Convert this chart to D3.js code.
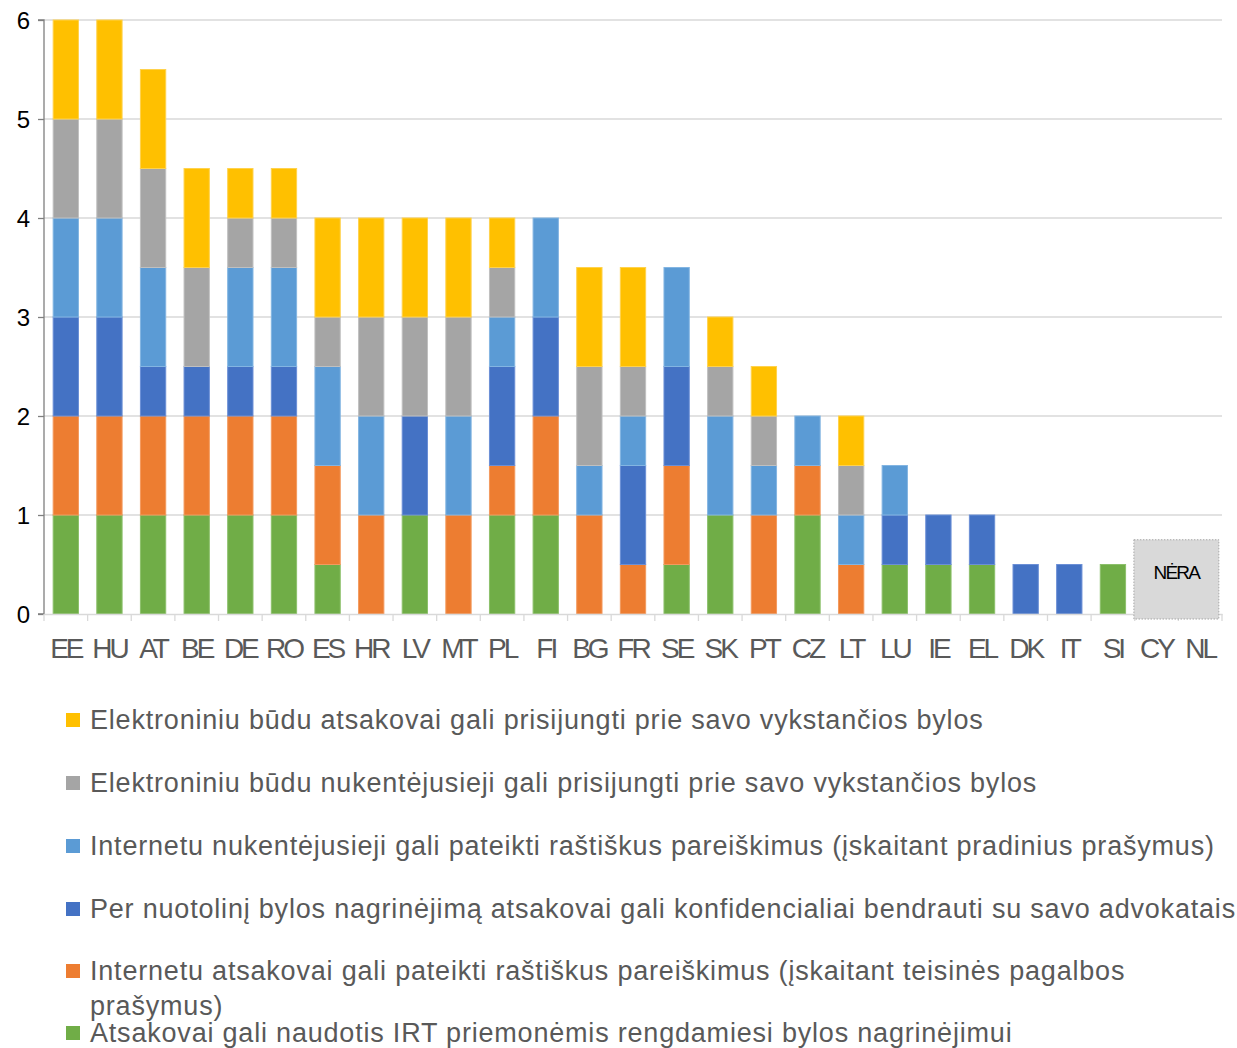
<!DOCTYPE html>
<html><head><meta charset="utf-8">
<script src="https://cdn.jsdelivr.net/npm/d3@7"></script>
<style>body{margin:0;background:#fff}svg{display:block}</style>
</head><body>
<svg id="c" width="1237" height="1048"></svg>
<script>
const categories = ["EE","HU","AT","BE","DE","RO","ES","HR","LV","MT","PL","FI","BG","FR","SE","SK","PT","CZ","LT","LU","IE","EL","DK","IT","SI","CY","NL"];
const seriesNames = [
  "Atsakovai gali naudotis IRT priemonėmis rengdamiesi bylos nagrinėjimui",
  "Internetu atsakovai gali pateikti raštiškus pareiškimus (įskaitant teisinės pagalbos prašymus)",
  "Per nuotolinį bylos nagrinėjimą atsakovai gali konfidencialiai bendrauti su savo advokatais",
  "Internetu nukentėjusieji gali pateikti raštiškus pareiškimus (įskaitant pradinius prašymus)",
  "Elektroniniu būdu nukentėjusieji gali prisijungti prie savo vykstančios bylos",
  "Elektroniniu būdu atsakovai gali prisijungti prie savo vykstančios bylos"
];
const green  = [1,1,1,1,1,1,0.5,0,1,0,1,1,0,0,0.5,1,0,1,0,0.5,0.5,0.5,0,0,0.5,0,0];
const orange = [1,1,1,1,1,1,1,1,0,1,0.5,1,1,0.5,1,0,1,0.5,0.5,0,0,0,0,0,0,0,0];
const dblue  = [1,1,0.5,0.5,0.5,0.5,0,0,1,0,1,1,0,1,1,0,0,0,0,0.5,0.5,0.5,0.5,0.5,0,0,0];
const lblue  = [1,1,1,0,1,1,1,1,0,1,0.5,1,0.5,0.5,1,1,0.5,0.5,0.5,0.5,0,0,0,0,0,0,0];
const gray   = [1,1,1,1,0.5,0.5,0.5,1,1,1,0.5,0,1,0.5,0,0.5,0.5,0,0.5,0,0,0,0,0,0,0,0];
const yellow = [1,1,1,1,0.5,0.5,1,1,1,1,0.5,0,1,1,0,0.5,0.5,0,0.5,0,0,0,0,0,0,0,0];
const yTicks = [0,1,2,3,4,5,6];
const naLabel = "NĖRA";
const naCats = ["CY","NL"];

const seriesVals = [green, orange, dblue, lblue, gray, yellow];
const colors = ["#70AD47","#ED7D31","#4472C4","#5B9BD5","#A5A5A5","#FFC000"];
const strokes = ["#8cc06b","#f39a5e","#6b8fd6","#83b5e2","#c0c0c0","#ffd24d"];
const FONT = "Liberation Sans, Arial, sans-serif";

const svg = d3.select("#c");
const L = 44, R = 1222, T = 20, B = 614;
const x = d3.scaleBand().domain(categories).range([L, R]).paddingInner(0.42).paddingOuter(0.21);
const y = d3.scaleLinear().domain([0,6]).range([B, T]);

// gridlines
svg.append("g").selectAll("line").data(yTicks.filter(d=>d>0)).join("line")
  .attr("x1", L).attr("x2", R).attr("y1", d=>y(d)).attr("y2", d=>y(d))
  .attr("stroke", "#d9d9d9").attr("stroke-width", 1.3);

const rows = categories.map((c,i)=>{const o={cat:c}; seriesVals.forEach((s,k)=>o["s"+k]=s[i]); return o;});
const stack = d3.stack().keys(seriesVals.map((_,k)=>"s"+k))(rows);

svg.append("g").selectAll("g").data(stack).join("g")
  .attr("fill", (d,k)=>colors[k]).attr("stroke",(d,k)=>strokes[k]).attr("stroke-width",1)
  .selectAll("rect").data(d=>d.filter(p=>p[1]-p[0]>0)).join("rect")
  .attr("x", d=>x(d.data.cat)).attr("width", x.bandwidth())
  .attr("y", d=>y(d[1])).attr("height", d=>y(d[0])-y(d[1]));

// y axis
const ya = svg.append("g").attr("transform",`translate(${L},0)`)
  .call(d3.axisLeft(y).tickValues(yTicks).tickSize(6).tickPadding(8).tickFormat(d3.format("d")));
ya.select(".domain").attr("stroke","#7f7f7f").attr("stroke-width",1.3).attr("d",`M-6,${T}H0V${B}H-6`);
ya.selectAll(".tick line").attr("stroke","#7f7f7f").attr("stroke-width",1.3);
ya.selectAll(".tick text").attr("font-family",FONT).attr("font-size",24).attr("fill","#000").attr("dy","0.35em");

// x axis
const xa = svg.append("g").attr("transform",`translate(0,${B})`)
  .call(d3.axisBottom(x).tickSize(0).tickPadding(24));
xa.select(".domain").attr("stroke","#d9d9d9").attr("stroke-width",1.3);
xa.selectAll(".tick text").attr("font-family",FONT).attr("font-size",28).attr("fill","#595959").attr("letter-spacing","-3px");
const bounds = categories.map(c=>x(c)-x.step()*x.paddingInner()/2).concat([R]);
svg.append("g").selectAll("line").data(bounds).join("line")
  .attr("x1",d=>d).attr("x2",d=>d).attr("y1",B).attr("y2",B+7).attr("stroke","#d9d9d9").attr("stroke-width",1.3);

// NA box
const nx0 = x(naCats[0]) - 10, nx1 = x(naCats[naCats.length-1]) + x.bandwidth() + 6;
svg.append("rect").attr("x",nx0).attr("y",y(0.75)).attr("width",nx1-nx0).attr("height",B+5-y(0.75))
  .attr("fill","#d9d9d9").attr("stroke","#a6a6a6").attr("stroke-dasharray","1.5,1.5");
svg.append("text").attr("x",(nx0+nx1)/2).attr("y",y(0.35)).attr("text-anchor","middle")
  .attr("font-family",FONT).attr("font-size",19).attr("letter-spacing","-1.8px").attr("fill","#000").text(naLabel);

// legend
const legendOrder = [5,4,3,2,1,0];
const legY = [720, 783, 846, 909, 971, 1033];
const lg = svg.append("g");
legendOrder.forEach((k,i)=>{
  const g = lg.append("g").attr("transform",`translate(66,${legY[i]})`);
  g.append("rect").attr("x",0).attr("y",-7).attr("width",14).attr("height",14).attr("fill",colors[k]);
  const t = g.append("text").attr("x",24).attr("y",9)
    .attr("font-family",FONT).attr("font-size",27).attr("fill","#595959").attr("letter-spacing","0.8px");
  if (k===1) {
    t.append("tspan").attr("x",24).text("Internetu atsakovai gali pateikti raštiškus pareiškimus (įskaitant teisinės pagalbos");
    t.append("tspan").attr("x",24).attr("dy",35).text("prašymus)");
  } else t.text(seriesNames[k]);
});
</script>
</body></html>
